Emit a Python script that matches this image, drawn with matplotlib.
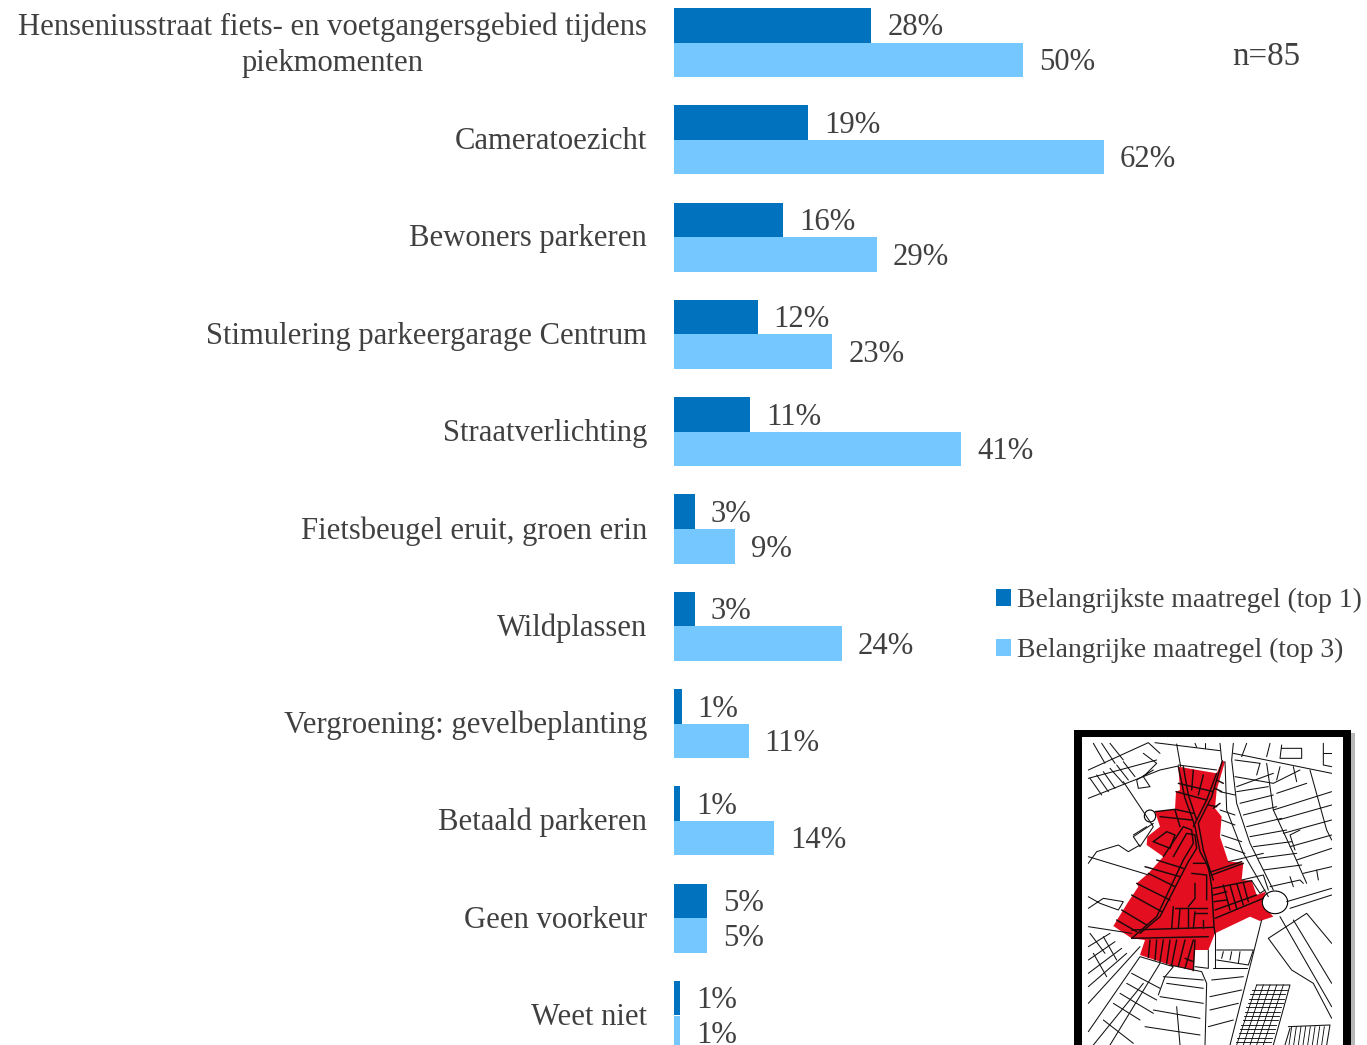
import matplotlib
matplotlib.use("Agg")
import matplotlib.pyplot as plt
from matplotlib.patches import Polygon, Rectangle, Ellipse
from matplotlib.transforms import ScaledTranslation
import numpy as np

categories = ["Henseniusstraat fiets- en voetgangersgebied tijdens\npiekmomenten", "Cameratoezicht",
              "Bewoners parkeren", "Stimulering parkeergarage Centrum", "Straatverlichting",
              "Fietsbeugel eruit, groen erin", "Wildplassen", "Vergroening: gevelbeplanting",
              "Betaald parkeren", "Geen voorkeur", "Weet niet"]
top1 = [28.3, 19.2, 15.7, 12.0, 10.9, 3.0, 2.95, 1.1, 0.85, 4.7, 0.85]
top3 = [50.1, 61.7, 29.1, 22.7, 41.2, 8.8, 24.1, 10.7, 14.4, 4.7, 0.85]
top1_labels = ["28%", "19%", "16%", "12%", "11%", "3%", "3%", "1%", "1%", "5%", "1%"]
top3_labels = ["50%", "62%", "29%", "23%", "41%", "9%", "24%", "11%", "14%", "5%", "1%"]
series_names = ["Belangrijkste maatregel (top 1)", "Belangrijke maatregel (top 3)"]

W, H = 1367, 1045
DARK, LIGHT, TXT = "#0072BE", "#75C8FF", "#404040"
FONT = "Liberation Serif"
plt.rcParams["font.family"] = [FONT, "DejaVu Sans"]
FS = 22.1

fig = plt.figure(figsize=(W/100, H/100), dpi=100, facecolor="white")
ax = fig.add_axes([674/W, 0, (W-674)/W, 1])
ax.set_xlim(0, (W-674)/6.97)
# category i is centred at y px = 42.5 + 97.3 i
ax.set_ylim((H-42.5)/97.3, -42.5/97.3)
ax.patch.set_alpha(0)
for s in ax.spines.values():
    s.set_visible(False)
ax.xaxis.set_visible(False)

y = np.arange(len(categories))
bh = 34.6/97.3
b1 = ax.barh(y-bh/2, top1, bh, color=DARK, label=series_names[0], linewidth=0)
b3 = ax.barh(y+bh/2, top3, bh, color=LIGHT, label=series_names[1], linewidth=0)
for yi, v, l in zip(y-bh/2, top1, top1_labels):
    ax.annotate(l, (v, yi), xytext=(11.5, -2), textcoords="offset points", va="center", ha="left",
                color=TXT, fontsize=FS, annotation_clip=False)
for yi, v, l in zip(y+bh/2, top3, top3_labels):
    ax.annotate(l, (v, yi), xytext=(11.5, -2), textcoords="offset points", va="center", ha="left",
                color=TXT, fontsize=FS, annotation_clip=False)

ax.set_yticks(y)
ax.set_yticklabels(categories, fontsize=FS, color=TXT, linespacing=1.33)
ax.tick_params(axis="y", length=0, pad=19.5)
for i, t in enumerate(ax.get_yticklabels()):
    t.set_multialignment("center")
    lift = 3.0 if i == 0 else 1.2
    t.set_transform(t.get_transform() + ScaledTranslation(0, lift/72, fig.dpi_scale_trans))

fig.text(1232/W, 1-57/H, "n=85", fontsize=23.8, color=TXT, ha="left", va="center")

leg = ax.legend(handles=[b1, b3], loc="upper left", bbox_to_anchor=(996/W, 1-588/H),
                bbox_transform=fig.transFigure, frameon=False, fontsize=19.9,
                handlelength=0.54, handleheight=0.54, handletextpad=0.22, labelspacing=0.9,
                borderpad=0, borderaxespad=0)
for t in leg.get_texts():
    t.set_color(TXT)

# ---- inset map (decorative picture), coordinates follow a 3x map crop
mx0, my0 = 1060, 720
m = fig.add_axes([mx0/W, 0, (W-mx0)/W, (H-my0)/H])
m.set_xlim(0, (W-mx0)*3)
m.set_ylim((H-my0)*3, 0)
m.axis("off")
m.add_patch(Rectangle((52, 40), 832, 960, fc="#8a8a8a", ec="none", alpha=.6))
m.add_patch(Rectangle((42, 30), 830, 960, fc="black", ec="none"))
m.add_patch(Rectangle((66, 52), 783, 960, fc="white", ec="none"))

red = [(355,140),(470,160),(487,122),(495,125),(470,210),(465,265),(485,290),(480,350),(505,425),
       (550,428),(545,480),(575,482),(590,525),(618,515),(605,550),(640,590),(600,603),(570,590),
       (465,640),(445,690),(405,690),(400,752),(330,735),(240,705),(255,660),(215,655),(160,618),
       (205,545),(235,500),(230,490),(265,460),(310,410),(260,375),(262,350),(300,320),(285,275),
       (345,268),(348,215),(360,210)]
m.add_patch(Polygon(red, fc="#E30F20", ec="none"))

inner = [
 [(355,140),(375,235),(395,290),(405,320),(420,395),(445,440),(455,500),(462,620),(465,640)],
 [(370,140),(385,225),(410,300)], [(470,160),(440,240),(400,320)], [(487,122),(455,230),(415,310),(430,390),(460,480)],
 [(285,275),(345,268),(400,280)], [(300,290),(395,300)], [(345,270),(360,320)], [(348,215),(440,240)], [(355,190),(460,215)],
 [(400,150),(395,210)], [(430,165),(415,225)],[(460,265),(480,250)],[(445,255),(470,260)],[(470,180),(490,190)],[(465,205),(485,215)],
 [(280,365),(320,335),(345,345),(330,385),(280,365)],
 [(310,410),(370,320),(395,330),(400,370),(370,420),(290,590),(215,655)],
 [(340,410),(380,340),(405,345),(410,385),(385,425),(300,590),(240,640)],
 [(215,630),(460,622)], [(215,655),(445,650)], [(255,440),(360,470)],[(265,460),(345,500)],[(230,490),(330,540)],[(215,525),(305,575)],[(185,570),(260,615)],[(170,600),(230,635)],
 [(290,420),(370,445)],[(400,430),(440,430),(450,460)],[(395,460),(440,465),(440,540)],[(405,490),(405,535),(385,560)],
 [(340,560),(335,625)],[(360,565),(355,625)],[(385,565),(385,625)],[(405,575),(400,625)],[(345,565),(440,565)],[(405,580),(440,580)],[(430,600),(430,625)],
 [(455,465),(550,430)],[(455,455),(545,425)],[(460,505),(575,482)],[(460,525),(500,515)],[(462,545),(500,540)],[(465,570),(590,525)],[(465,595),(610,535)],
 [(490,495),(510,570)],[(510,495),(530,565)],[(530,490),(550,555)],[(550,488),(565,545)],
 [(270,660),(265,712)],[(290,660),(285,720)],[(310,660),(300,725)],[(330,660),(320,730)],[(350,660),(335,735)],[(375,660),(355,740)],[(400,660),(375,745)],[(375,715),(400,725)],
 [(405,660),(400,752)],
]
outer = [
 [(85,150),(265,68),(300,100)],[(85,175),(290,120)],[(85,235),(300,150),(355,138)],[(100,70),(135,130)],[(125,70),(165,130)],[(150,70),(190,120)],
 [(90,175),(125,225)],[(110,165),(145,215)],[(130,155),(165,205)],[(150,145),(190,190)],[(170,135),(205,180)],[(190,125),(225,170)],
 [(250,100),(290,130),(250,170),(270,200),(235,205),(230,180),(280,150)],[(190,185),(280,320),(240,380),(220,350),(280,310)],
 [(285,68),(480,92)],[(350,72),(362,140)],[(355,135),(470,150)],[(405,70),(410,82)],[(435,70),(435,85)],
 [(480,70),(485,120)],[(520,70),(515,120),(530,250),(570,370),(640,510)],[(495,125),(500,270),(550,400),(625,530)],
 [(520,100),(815,160)],[(525,120),(600,130)],[(560,70),(545,110)],[(630,70),(620,110)],[(665,75),(660,115),(725,115),(725,85),(665,85)],
 [(790,70),(790,135),(815,140)],[(790,100),(815,100)],[(525,170),(640,190),(720,150)],[(530,200),(640,160)],[(530,215),(625,200)],
 [(620,130),(640,270),(700,400),(740,490)],[(750,150),(800,330),(815,360)],
 [(700,140),(710,185)],[(600,130),(590,165)],[(660,140),(650,180)],
 [(85,430),(110,395),(175,375),(205,395),(240,375)],[(85,410),(250,460),(265,465)],[(220,345),(260,320)],
 [(85,530),(120,550),(175,570),(190,545),(130,535),(85,565)],[(85,620),(215,640)],[(85,680),(150,640)],[(85,720),(165,665)],[(85,760),(185,685)],[(85,800),(200,700)],[(85,850),(240,680)],
 [(90,640),(135,700)],[(130,650),(170,720)],[(100,700),(140,770)],[(85,935),(240,710),(340,740),(315,770),(295,825)],[(100,975),(250,790)],[(150,975),(300,730)],
 [(160,850),(240,900)],[(180,820),(280,880)],[(200,790),(290,840)],[(215,760),(300,805)],[(130,900),(220,970)],
 [(330,735),(425,755),(440,790),(435,975)],[(300,830),(430,850)],[(320,790),(430,805)],[(310,770),(430,780)],[(280,870),(420,895)],[(255,920),(420,945)],[(350,860),(360,975)],
 [(445,690),(445,745),(405,740)],[(465,640),(465,745)],[(470,690),(580,690),(565,735),(470,720)],[(490,695),(485,715)],[(515,695),(510,720)],[(540,695),(535,730)],
 [(605,600),(575,720),(510,975)],[(460,745),(560,745)],[(455,780),(550,770)],[(450,830),(545,810)],[(450,870),(535,850)],[(445,920),(520,900)],
 [(590,795),(690,795),(640,975)],[(625,655),(740,580),(815,670)],[(625,655),(695,750),(760,790),(815,895)],[(660,590),(815,860)],[(700,600),(815,790)],[(680,545),(815,505)],[(690,565),(815,525)],
 [(685,920),(810,915),(800,975)],[(675,975),(690,925)],
 [(640,270),(815,215)],[(655,300),(815,255)],[(670,340),(815,300)],[(690,380),(815,345)],[(710,420),(815,385)],[(730,460),(815,440)],[(650,220),(740,190)],
 [(630,500),(720,480),(730,490)],[(690,470),(700,500)],[(770,450),(775,480)],[(720,330),(690,345),(705,390)],
 [(505,425),(610,400)],[(545,480),(610,465),(625,510)],[(575,482),(600,520),(615,510)],[(540,250),(640,225)],[(550,285),(650,260)],[(560,320),(665,295)],[(570,350),(680,330)],[(580,380),(695,365)],[(595,415),(710,400)],[(610,450),(725,435)],
 [(480,215),(525,225)],[(480,270),(525,285)],[(485,300),(525,315)],[(485,345),(545,365)],[(495,380),(555,400)],
]
for pl in inner:
    m.plot(*zip(*pl), color="#1a0a0a", lw=1.05, solid_capstyle="round")
for pl in outer:
    m.plot(*zip(*pl), color="#111111", lw=0.75, solid_capstyle="round")
for a, b in [((590,795),(530,975)), ((610,795),(550,975)), ((630,795),(570,975)), ((650,795),(590,975)), ((670,795),(610,975))]:
    m.plot(*zip(a, b), color="black", lw=.6)
for yy in range(810, 975, 13):
    m.plot([575-(yy-810)*.3, 680-(yy-810)*.3], [yy, yy], color="black", lw=.6)
for xx in range(695, 805, 14):
    m.plot([xx, xx-8], [920, 975], color="black", lw=.6)
m.add_patch(Ellipse((645, 547), 76, 68, fc="white", ec="black", lw=.8))
m.add_patch(Ellipse((270, 288), 34, 36, fc="white", ec="black", lw=.8))
# mask for the white margin at the right of the drawing
m.add_patch(Rectangle((815, 52), 34, 960, fc="white", ec="none", zorder=5))

fig.savefig("out.png", dpi=100)
